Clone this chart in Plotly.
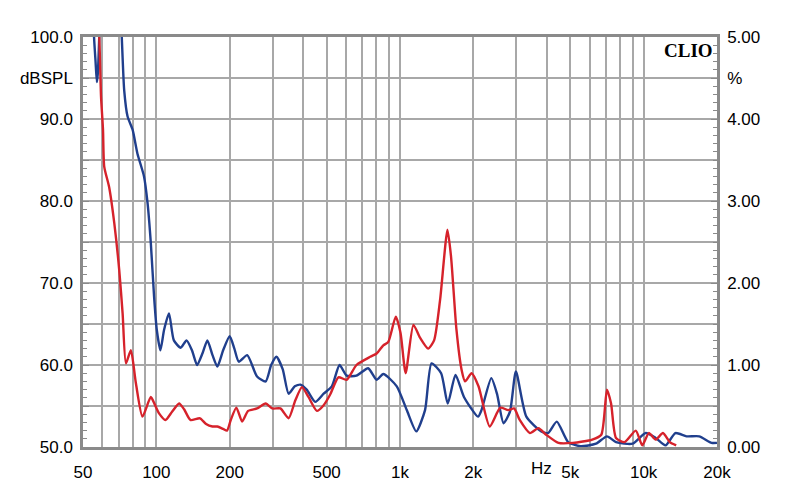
import math
import plotly.graph_objects as go

# ---- data ----
blue_f = [55, 55.5, 56.3, 57.0, 57.5, 58.3, 59, 70, 72, 73.8, 76.2, 79.9, 83.6, 89, 92, 94.9, 97.9,
          100.4, 103.9, 107.6, 112.7, 118, 125.9, 133, 140, 147, 155, 162, 170, 178, 188, 200, 209,
          218, 236, 259, 281, 296, 311, 330, 349, 370, 390, 414, 449, 486, 525, 565, 604, 663, 740,
          802, 854, 970, 1066, 1166, 1267, 1347, 1475, 1570, 1690, 1830, 2090, 2160, 2370, 2500,
          2660, 2826, 2990, 3300, 3800, 4050, 4400, 4900, 5500, 6375, 7070, 7700, 9000, 10200,
          11200, 12300, 13500, 15000, 16900, 19000, 20000]
blue_db = [105, 100, 97, 94.5, 95.5, 100, 106, 108, 100.5, 93.5, 90.3, 88.7, 85.8, 83, 79.8, 74.9, 68.3,
           64.3, 61.8, 64.3, 66.3, 63, 62.1, 63, 61.8, 60, 61.5, 63, 61.2, 59.8, 61.8, 63.5, 62,
           60.4, 61.2, 58.6, 58, 60, 61, 59.5, 56.5, 57.4, 57.6, 57, 55.5, 56.5, 57.4, 60, 58.7, 58.7, 59.6,
           58.2, 58.9, 57.4, 54.5, 51.9, 54.5, 60.2, 59, 55.3, 58.8, 56.1, 53.7, 54.5, 58.4, 56.5,
           52.9, 54.3, 59.2, 53.7, 51.9, 51.7, 53.1, 50.6, 50.1, 50.4, 51.3, 50.6, 50.4, 51.7,
           51.1, 50.2, 51.7, 51.3, 51.3, 50.5, 50.5]

red_f = [56.5, 58.3, 59.3, 60.4, 61.1, 64, 67.2, 70.4, 72.7, 75, 78.6, 82.4, 87.7, 94.9, 98.5,
         102.6, 109, 116, 124, 130, 138, 151, 160, 170, 178, 188, 195, 202, 213, 225, 238, 259,
         281, 299, 323, 349, 372, 396, 421, 456, 486, 517, 559, 604, 663, 755, 802, 854, 895, 961,
         1005, 1055, 1135, 1210, 1305, 1380, 1460, 1566, 1620, 1705, 1790, 1850, 1967, 2100,
         2335, 2580, 2780, 2940, 3100, 3415, 3700, 3980, 4470, 5130, 6150, 6700, 7070, 7350,
         7700, 8350, 9280, 9870, 10500, 11200, 12000, 12800, 13600]
red_db = [106, 100, 92.7, 88.7, 84.2, 81.7, 77.3, 71.6, 66.3, 60.2, 61.8, 57.8, 53.7, 56.1, 55.2,
          54.1, 53.3, 54.3, 55.3, 54.6, 53.3, 53.5, 52.8, 52.5, 52.5, 52.2, 52, 53.3, 54.8, 53.1, 54.4, 54.7,
          55.3, 54.7, 54.7, 53.5, 55.7, 57.3, 56.1, 54.4, 55.1, 56.4, 58.5, 58.2, 60, 61, 61.4, 62.4, 62.8, 65.9,
          63.9, 59, 64.9, 63.3, 62, 63, 67.9, 76.5, 73.2, 64.3, 59.4, 58, 59, 57.4,
          52.5, 54.8, 54.5, 54.7, 53.3, 51.7, 52.3, 51.5, 50.5, 50.5, 50.9, 51.5, 57, 55.3,
          51.1, 50.6, 52, 50.2, 51.7, 50.9, 51.7, 50.6, 50.2]

x_grid = [50, 60, 70, 80, 90, 100, 200, 300, 400, 500, 600, 700, 800, 900, 1000,
          2000, 3000, 4000, 5000, 6000, 7000, 8000, 9000, 10000, 20000]
x_labels = {50: "50", 100: "100", 200: "200", 500: "500", 1000: "1k", 2000: "2k",
            5000: "5k", 10000: "10k", 20000: "20k"}
hz_pos = 3800

y_ticks = [50, 55, 60, 65, 70, 75, 80, 85, 90, 95, 100]
y_text = ["50.0", "", "60.0", "", "70.0", "", "80.0", "", "90.0", "dBSPL", "100.0"]
y2_ticks = [0, 1, 2, 3, 4, 4.5, 5]
y2_text = ["0.00", "1.00", "2.00", "3.00", "4.00", "%", "5.00"]

BLUE = "#203f8d"
RED = "#d6222b"
GRID = "#a8a8a8"
AXIS = "#8a8a8a"

fig = go.Figure()
fig.add_trace(go.Scatter(x=blue_f, y=blue_db, mode="lines",
                         line=dict(color=BLUE, width=2.4, shape="spline", smoothing=0.6),
                         showlegend=False, hoverinfo="skip"))
fig.add_trace(go.Scatter(x=red_f, y=red_db, mode="lines",
                         line=dict(color=RED, width=2.4, shape="spline", smoothing=0.6),
                         showlegend=False, hoverinfo="skip"))
fig.add_trace(go.Scatter(x=[None], y=[None], yaxis="y2", showlegend=False, hoverinfo="skip"))

fig.update_layout(
    width=800, height=504,
    margin=dict(l=83, r=83, t=37, b=57),
    paper_bgcolor="white", plot_bgcolor="white",
    font=dict(family="Liberation Sans, Arial, sans-serif", size=17, color="black"),
    xaxis=dict(type="log", range=[math.log10(50), math.log10(20000)],
               tickvals=x_grid, ticktext=[x_labels.get(v, "") for v in x_grid],
               showgrid=True, gridcolor=GRID, gridwidth=1.5, ticks="",
               showline=True, linecolor=AXIS, linewidth=2.5, mirror=True,
               ticklabelstandoff=8, zeroline=False),
    yaxis=dict(range=[50, 100], tickvals=y_ticks, ticktext=y_text,
               showgrid=True, gridcolor=GRID, gridwidth=1.5,
               ticks="inside", ticklen=6, tickcolor=AXIS,
               minor=dict(dtick=1, ticks="inside", ticklen=4, tickcolor=AXIS, showgrid=False),
               showline=True, linecolor=AXIS, linewidth=2.5, mirror=True,
               ticklabelstandoff=4, zeroline=False),
    yaxis2=dict(range=[0, 5], overlaying="y", side="right",
                tickvals=y2_ticks, ticktext=y2_text, showgrid=False,
                ticks="inside", ticklen=6, tickcolor=AXIS,
                minor=dict(dtick=0.1, ticks="inside", ticklen=4, tickcolor=AXIS, showgrid=False),
                showline=True, linecolor=AXIS, linewidth=2.5,
                ticklabelstandoff=4, zeroline=False),
)

fig.add_annotation(x=math.log10(hz_pos), y=0, xref="x", yref="paper",
                   text="Hz", showarrow=False, yanchor="top", yshift=-10,
                   font=dict(size=17, color="black"))
fig.add_annotation(x=1, y=1, xref="paper", yref="paper", text="<b>CLIO</b>",
                   showarrow=False, xanchor="right", yanchor="top", xshift=-2, yshift=-1,
                   font=dict(family="Liberation Serif, serif", size=19, color="black"))

fig.write_html("out.html")
